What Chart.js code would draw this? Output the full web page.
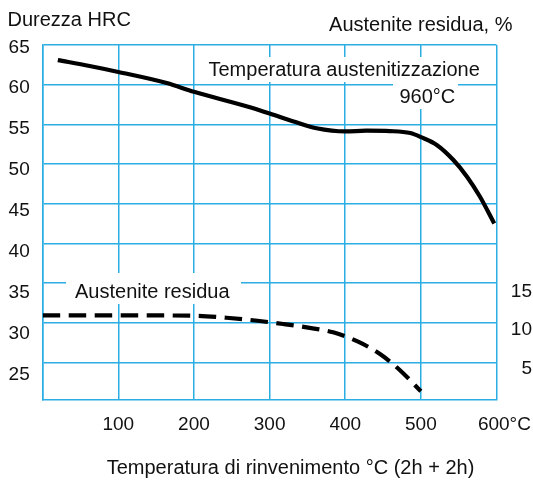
<!DOCTYPE html>
<html>
<head>
<meta charset="utf-8">
<script src="https://cdn.jsdelivr.net/npm/chart.js@4.4.1/dist/chart.umd.min.js"></script>
<style>
html,body{margin:0;padding:0;background:#fff;}
canvas{display:block;}
</style>
</head>
<body>
<canvas id="c" width="533" height="483"></canvas>
<script>
// ---- data ----
const hardnessTemps = [20, 62, 100, 164, 200, 274, 300, 340, 362, 400, 428, 459, 486, 501, 521, 543, 561, 578, 597];
const hardnessHRC   = [63.1, 62.35, 61.6, 60.2, 59.1, 57.15, 56.35, 55.1, 54.5, 54.1, 54.2, 54.15, 53.9, 53.35, 52.4, 50.5, 48.4, 45.9, 42.5];

const austeniteTemps = [0, 100, 200, 243, 284, 318, 351, 384, 417, 446, 472, 500];
const austenitePct   = [10.93, 10.92, 10.88, 10.62, 10.24, 9.83, 9.37, 8.78, 7.6, 6.05, 4.03, 1.35];

const xTickValues = [0, 100, 200, 300, 400, 500, 600];
const xTickLabels = ['', '100', '200', '300', '400', '500', '   600°C'];
const leftTicks  = [25, 30, 35, 40, 45, 50, 55, 60, 65];
const rightTicks = [5, 10, 15];

const leftTitle  = 'Durezza HRC';
const rightTitle = 'Austenite residua, %';
const xTitle     = 'Temperatura di rinvenimento °C (2h + 2h)';
const noteLine1  = 'Temperatura austenitizzazione';
const noteLine2  = '960°C';
const austLabel  = 'Austenite residua';

// ---- styling ----
const FONT = '"Liberation Sans", Arial, Helvetica, sans-serif';
const FS = 19;      // tick labels
const FT = 20;      // titles / notes
const TXT = '#111111';
const GRID = '#2aaee4';

const textPlugin = {
  id: 'texts',
  beforeDatasetsDraw(chart) {
    const c = chart.ctx;
    c.save();
    c.fillStyle = '#ffffff';
    c.fillRect(201, 57, 281, 25);   // box behind "Temperatura austenitizzazione"
    c.fillRect(393, 80, 65, 29);    // box behind "960°C"
    c.fillRect(66, 273, 175, 31);   // box behind "Austenite residua"
    c.restore();
  },
  afterDatasetsDraw(chart) {
    const c = chart.ctx;
    c.save();
    c.fillStyle = TXT;
    c.font = FT + 'px ' + FONT;
    c.textBaseline = 'alphabetic';
    c.textAlign = 'left';
    c.fillText(leftTitle, 7.5, 26);
    c.fillText(noteLine1, 208.5, 76);
    c.fillText(noteLine2, 399.5, 102.5);
    c.fillText(austLabel, 75, 297.5);
    c.textAlign = 'right';
    c.fillText(rightTitle, 512.5, 30.5);
    c.textAlign = 'center';
    c.fillText(xTitle, 290.5, 474);
    c.restore();
  }
};

const setTicks = (vals) => (s) => { s.ticks = vals.map(v => ({ value: v })); };

new Chart(document.getElementById('c'), {
  type: 'line',
  data: {
    datasets: [
      {
        label: 'Durezza HRC',
        data: hardnessTemps.map((t, i) => ({ x: t, y: hardnessHRC[i] })),
        yAxisID: 'y',
        borderColor: '#000',
        borderWidth: 4.2,
        pointRadius: 0,
        fill: false,
        cubicInterpolationMode: 'monotone',
        borderCapStyle: 'butt'
      },
      {
        label: 'Austenite residua',
        data: austeniteTemps.map((t, i) => ({ x: t, y: austenitePct[i] })),
        yAxisID: 'yA',
        borderColor: '#000',
        borderWidth: 4.2,
        borderDash: [17.5, 8.5],
        pointRadius: 0,
        fill: false,
        cubicInterpolationMode: 'monotone',
        borderCapStyle: 'butt'
      }
    ]
  },
  options: {
    responsive: false,
    animation: false,
    events: [],
    layout: { padding: { top: 45, right: 1, left: 0, bottom: 0 } },
    plugins: { legend: { display: false }, tooltip: { enabled: false } },
    scales: {
      x: {
        type: 'linear',
        position: 'bottom',
        min: 0, max: 600,
        afterBuildTicks: setTicks(xTickValues),
        ticks: {
          callback: (v) => xTickLabels[xTickValues.indexOf(v)],
          font: { family: FONT, size: FS },
          color: TXT,
          padding: 13,
          maxRotation: 0,
          autoSkip: false
        },
        grid: { color: GRID, lineWidth: 1.5, drawTicks: false },
        border: { color: GRID, width: 1.5 },
        afterFit: (s) => { s.height = 83; s.paddingLeft = 0; s.paddingRight = 0; }
      },
      y: {
        position: 'left',
        min: 20.25, max: 65,
        afterBuildTicks: setTicks(leftTicks),
        ticks: { display: false },
        grid: { color: GRID, lineWidth: 1.5, drawTicks: false },
        border: { color: GRID, width: 1.5 },
        afterFit: (s) => { s.width = 0; }
      },
      yL: {
        position: 'left',
        min: 21.86, max: 65.28,
        afterBuildTicks: setTicks(leftTicks),
        ticks: { font: { family: FONT, size: FS }, color: TXT, padding: 13 },
        grid: { display: false, drawTicks: false },
        border: { display: false },
        afterFit: (s) => { s.width = 42.7; }
      },
      yA: {
        position: 'right',
        display: false,
        min: 0.25, max: 45
      },
      yR: {
        position: 'right',
        min: 0.86, max: 47.2,
        afterBuildTicks: setTicks(rightTicks),
        ticks: { font: { family: FONT, size: FS }, color: TXT, padding: 0, crossAlign: 'far' },
        grid: { display: false, drawTicks: false },
        border: { display: false },
        afterFit: (s) => { s.width = 35.5; }
      }
    }
  },
  plugins: [textPlugin]
});
</script>
</body>
</html>
